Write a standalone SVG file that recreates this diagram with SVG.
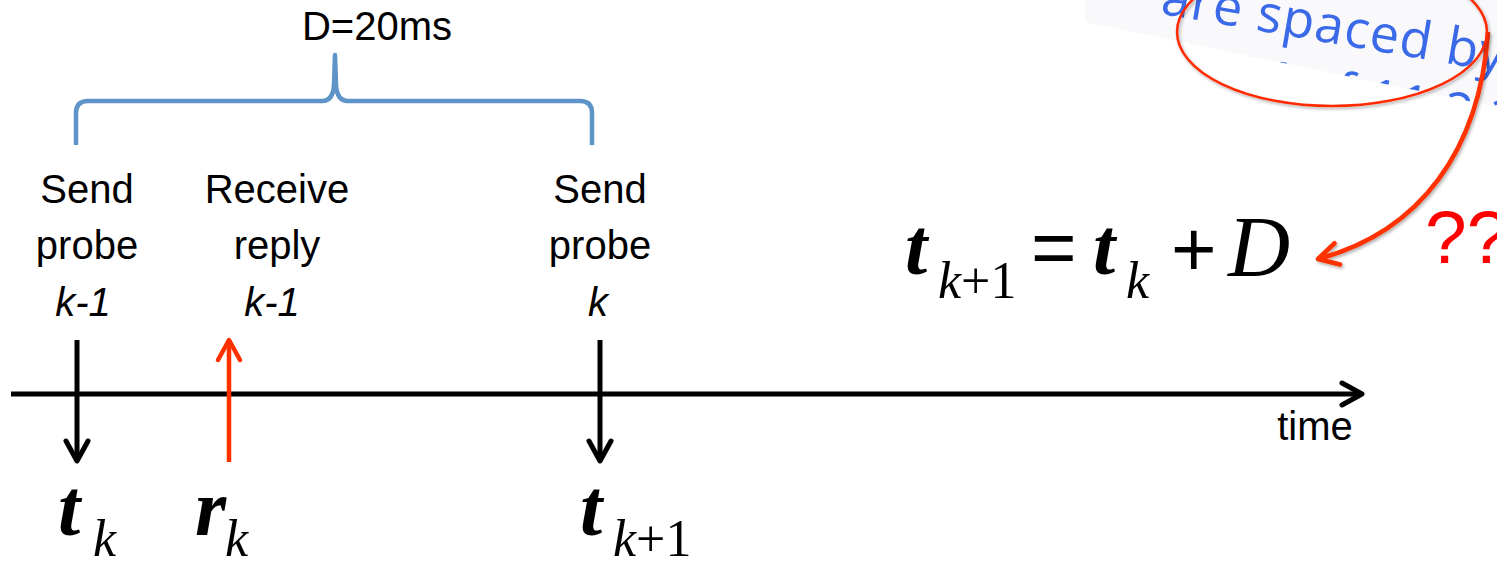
<svg xmlns="http://www.w3.org/2000/svg" width="1497" height="562" viewBox="0 0 1497 562">
<style>
.lbl{font-family:"Liberation Sans",Arial,sans-serif;font-size:40px;fill:#000;text-anchor:middle}
.it{font-style:italic}
.m{font-family:"Liberation Serif","Times New Roman",serif;font-style:italic;fill:#000}
.mt{font-size:80px;font-weight:bold}
.ms{font-size:52px;font-weight:normal}
.up{font-style:normal}
.op{font-family:"Liberation Sans",Arial,sans-serif;font-style:normal;font-size:78px}
.blk{stroke:#000;stroke-width:5;fill:none}
.red{stroke:#ff3000;stroke-width:4.5;fill:none}
.snip{font-family:"Open Sans","Noto Sans",sans-serif;font-size:52px;fill:#3b6ae8;letter-spacing:1px}
</style>
<defs>
<marker id="chevK" markerUnits="userSpaceOnUse" viewBox="-26 -16 32 32" markerWidth="32" markerHeight="32" refX="0" refY="0" orient="auto">
<path d="M-20,-11 L0,0 L-20,11" fill="none" stroke="#000" stroke-width="5" stroke-linecap="round" stroke-linejoin="round"/>
</marker>
<marker id="chevR" markerUnits="userSpaceOnUse" viewBox="-26 -16 32 32" markerWidth="32" markerHeight="32" refX="0" refY="0" orient="auto">
<path d="M-20,-11 L0,0 L-20,11" fill="none" stroke="#ff3000" stroke-width="4.5" stroke-linecap="round" stroke-linejoin="round"/>
</marker>
<filter id="sh" x="-10%" y="-10%" width="130%" height="130%">
<feDropShadow dx="1.5" dy="2" stdDeviation="1.5" flood-color="#000" flood-opacity="0.3"/>
</filter>
<clipPath id="snipClip">
<polygon points="1085,0 1497,0 1497,107 1085,22"/>
</clipPath>
</defs>

<g id="snippet">
<polygon points="1085,0 1497,0 1497,107 1085,22" fill="#f9f9fb"/>
<g clip-path="url(#snipClip)">
<g transform="translate(1255,30) rotate(9.8)">
<text class="snip" x="-97" y="0">are spaced by</text>
<text class="snip" x="-160" y="64">8:16 AM of 11.2.2009</text>
</g>
</g>
</g>

<g id="brace">
<path d="M76,145 V113 Q76,101 88,101 H322 Q333,101 334,85 L335,55 L336,85 Q337,101 348,101 H580 Q592,101 592,113 V145" fill="none" stroke="#5e94c8" stroke-width="4.5" stroke-linejoin="round"/>
<text class="lbl" x="377" y="40">D=20ms</text>
</g>

<g id="label-send-k-1">
<text class="lbl" x="87" y="203">Send</text>
<text class="lbl" x="87" y="259">probe</text>
<text class="lbl it" x="83" y="316">k-1</text>
</g>
<g id="label-receive-k-1">
<text class="lbl" x="277" y="203">Receive</text>
<text class="lbl" x="277" y="259">reply</text>
<text class="lbl it" x="272" y="316">k-1</text>
</g>
<g id="label-send-k">
<text class="lbl" x="600" y="203">Send</text>
<text class="lbl" x="600" y="259">probe</text>
<text class="lbl it" x="598" y="316">k</text>
</g>

<g id="connectors">
<line id="axis" class="blk" x1="11" y1="394" x2="1362" y2="394" marker-end="url(#chevK)"/>
<line class="blk" x1="77" y1="340" x2="77" y2="461" marker-end="url(#chevK)"/>
<line class="red" x1="229" y1="462" x2="229" y2="340" marker-end="url(#chevR)"/>
<line class="blk" x1="600" y1="340" x2="600" y2="461" marker-end="url(#chevK)"/>
<path class="red" d="M1488,32 C1480,150 1420,232 1318,259" marker-end="url(#chevR)" filter="url(#sh)"/>
</g>

<g id="time-label">
<text class="lbl" x="1315" y="440" font-size="42">time</text>
</g>

<g id="t-k">
<text class="m mt" x="58" y="535">t</text>
<text class="m ms" x="93" y="556">k</text>
</g>
<g id="r-k">
<text class="m mt" x="195" y="535">r</text>
<text class="m ms" x="225" y="556">k</text>
</g>
<g id="t-k1">
<text class="m mt" x="580" y="535">t</text>
<text class="m ms" x="613" y="556">k<tspan class="up">+1</tspan></text>
</g>

<g id="equation">
<text class="m mt" x="905" y="274">t</text>
<text class="m ms" x="938" y="298">k<tspan class="up">+1</tspan></text>
<text class="m op" x="1031" y="274">=</text>
<text class="m mt" x="1093" y="274">t</text>
<text class="m ms" x="1126" y="298">k</text>
<text class="m op" x="1171" y="276">+</text>
<text class="m" x="1228" y="276" font-size="86">D</text>
</g>

<g id="highlight">
<ellipse cx="1332" cy="32" rx="155" ry="74" fill="none" stroke="#ff2a00" stroke-width="2.5" filter="url(#sh)"/>
</g>

<g id="question">
<text x="1425" y="263" font-family="'Liberation Sans',Arial,sans-serif" font-size="75" fill="#ff0000">??</text>
</g>
</svg>
